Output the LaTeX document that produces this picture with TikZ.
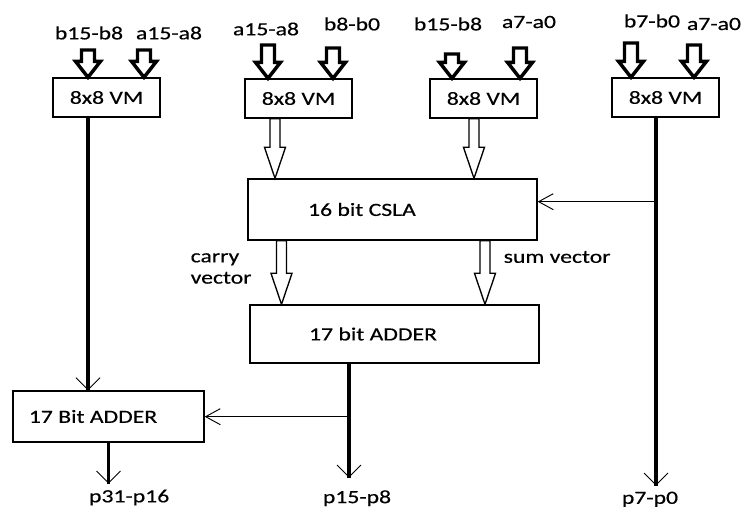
\documentclass[tikz,border=0pt]{standalone}
\usepackage{fontspec}
\setmainfont[FakeStretch=1.27,FakeBold=0.4]{Carlito}
\usetikzlibrary{arrows.meta,calc}

\newcommand{\fatbus}[2]{%
  \path (#1) coordinate (hbt) (#2) coordinate (hbp);
  \draw[fatline] (hbp) -- ++(-12.5,-16) -- ++(6,0) |- ($(hbt)+(6.5,0)$)
    -- ($(hbp)+(6.5,-16)$) -- ++(6,0) -- cycle;}
\newcommand{\hollowbus}[2]{%
  \path (#1) coordinate (hbt) (#2) coordinate (hbp);
  \draw[hollowline] (hbp) -- ++(-10.5,-31) -- ++(5.5,0) |- ($(hbt)+(5,0)$)
    -- ($(hbp)+(5,-31)$) -- ++(5.5,0) -- cycle;}

\begin{document}
\begin{tikzpicture}[x=0.75pt,y=-0.75pt,
  font=\fontsize{14}{16}\selectfont,
  box/.style={draw,line width=1pt,minimum width=80.25pt,minimum height=29.25pt,inner sep=0pt},
  thickarr/.style={line width=2.4pt,
    postaction={draw,line width=0.7pt,-{Straight Barb[length=9pt,width=18pt]}}},
  thinarr/.style={line width=1pt,-{Straight Barb[length=11pt,width=12pt,line width=0.7pt 0]}},
  fatline/.style={line width=2.6pt,fill=white,line join=miter},
  hollowline/.style={line width=1pt,fill=white}]
\useasboundingbox (0,0) rectangle (743,509);

\node[box] (vma) at (106.5,97.5) {8x8 VM};
\node[box] (vmb) at (298.5,98.5) {8x8 VM};
\node[box] (vmc) at (483.5,98.5) {8x8 VM};
\node[box] (vmd) at (665.5,97.5) {8x8 VM};
\node[box,minimum width=216.75pt,minimum height=45.75pt,
  label={[xshift=-22.9pt]center:16 bit CSLA}] (csla) at (392.5,209.5) {};
\node[box,minimum width=216.75pt,minimum height=43.5pt,
  label={[xshift=-16.1pt]center:17 bit ADDER}] (addb) at (394.5,334) {};
\node[box,minimum width=143.25pt,minimum height=38.25pt,
  label={[xshift=-11.6pt]center:17 Bit ADDER}] (adda) at (108.5,416.5) {};

\node (la1) at (89,33) {b15-b8};
\node (la2) at (169,33) {a15-a8};
\node (lb1) at (266,29) {a15-a8};
\node (lb2) at (352,24) {b8-b0};
\node (lc1) at (448,24) {b15-b8};
\node (lc2) at (529,22) {a7-a0};
\node (ld1) at (652,21) {b7-b0};
\node (ld2) at (714,24) {a7-a0};

\coordinate (ia1) at (88,50);
\coordinate (ia2) at (144,50);
\coordinate (ib1) at (268,45);
\coordinate (ib2) at (333,48);
\coordinate (ic1) at (452,54);
\coordinate (ic2) at (520,48);
\coordinate (id1) at (631,43);
\coordinate (id2) at (694,45);
\fatbus{ia1}{vma.north -| ia1}
\fatbus{ia2}{vma.north -| ia2}
\fatbus{ib1}{vmb.north -| ib1}
\fatbus{ib2}{vmb.north -| ib2}
\fatbus{ic1}{vmc.north -| ic1}
\fatbus{ic2}{vmc.north -| ic2}
\fatbus{id1}{vmd.north -| id1}
\fatbus{id2}{vmd.north -| id2}

\coordinate (hb) at ($(vmb.south)+(-23.5,0)$);
\coordinate (hc) at ($(vmc.south)+(-9.5,0)$);
\coordinate (hcar) at ($(csla.south)+(-111,0)$);
\coordinate (hsum) at ($(csla.south)+(92.5,0)$);
\hollowbus{hb}{csla.north -| hb}
\hollowbus{hc}{csla.north -| hc}
\hollowbus{hcar}{addb.north -| hcar}
\hollowbus{hsum}{addb.north -| hsum}
\node[anchor=west,align=left] (carry) at (186,268.5) {carry\\vector};
\node[anchor=west] (sumv) at (499,257) {sum vector};

\coordinate (va) at ($(vma.south)+(-18.5,0)$);
\draw[thickarr] (va) -- (va |- adda.north);
\coordinate (vd) at ($(vmd.south)+(-9.5,0)$);
\coordinate (jd) at ($(vd)+(0,84)$);
\draw[thickarr] (vd) -- ($(vd)+(0,368)$) node[below,xshift=-4.5pt] (p7) {p7-p0};
\draw[thinarr] (jd) -- (jd -| csla.east);
\coordinate (vb) at ($(addb.south)+(-45.5,0)$);
\coordinate (jb) at ($(vb)+(0,53)$);
\draw[thickarr] (vb) -- ($(vb)+(0,114)$) node[below=5pt,xshift=6pt] (p15) {p15-p8};
\draw[thinarr] (jb) -- (jb -| adda.east);
\draw[thickarr] (adda.south) -- ++(0,41) node[below,xshift=15.5pt] (p31) {p31-p16};
\end{tikzpicture}
\end{document}
